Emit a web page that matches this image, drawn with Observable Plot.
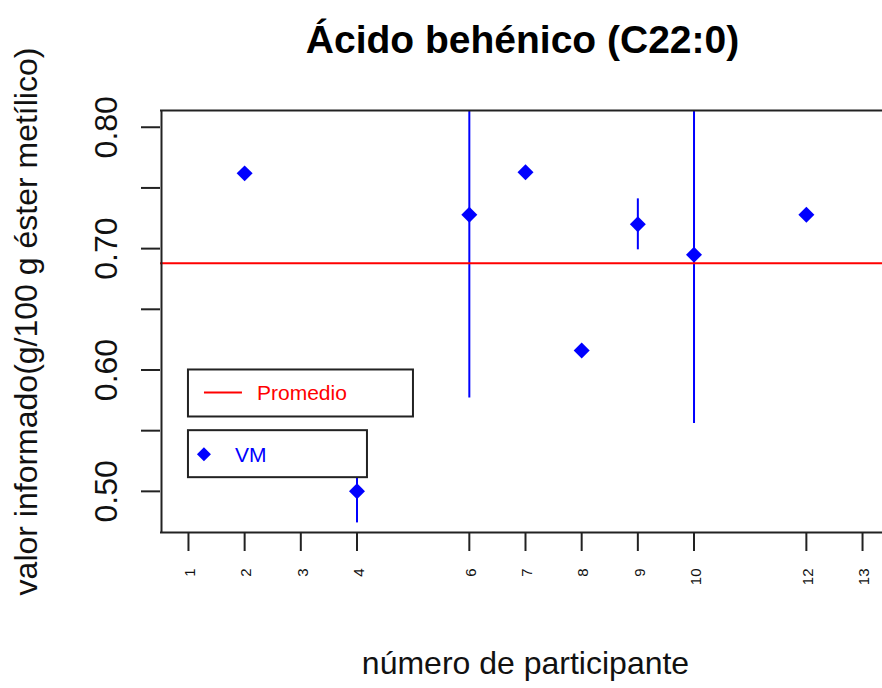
<!DOCTYPE html>
<html><head><meta charset="utf-8">
<script src="https://cdn.jsdelivr.net/npm/d3@7"></script>
<script src="https://cdn.jsdelivr.net/npm/@observablehq/plot@0.6"></script>
<style>
body{margin:0;background:#fff;}
#chart svg{display:block;font-family:"Liberation Sans",Arial,sans-serif;background:#fff;}
</style>
</head><body><div id="chart"></div>
<script>
// ---- data ----
const participants = [2, 4, 6, 7, 8, 9, 10, 12];
const values = [0.762, 0.500, 0.728, 0.763, 0.616, 0.720, 0.695, 0.728];
const uncertainties = [0, 0.026, 0.151, 0, 0, 0.021, 0.139, 0];
const promedio = 0.688;
const xTicks = [1, 2, 3, 4, 6, 7, 8, 9, 10, 12, 13];
const yTicks = [0.50, 0.55, 0.60, 0.65, 0.70, 0.75, 0.80];
const yLabels = [0.50, 0.60, 0.70, 0.80];
const legendLabels = ["Promedio", "VM"];
const legendX = [1, 1];
const legendY = [0.60, 0.55];
const title = "Ácido behénico (C22:0)";
const xTitle = "número de participante";
const yTitle = "valor informado(g/100 g éster metílico)";
const xDomain = [0.52, 13.48];
const yDomain = [0.4661, 0.8138];

const rows = participants.map((p, i) => ({p, v: values[i], u: uncertainties[i]}));
const bars = rows.filter(d => d.u > 0);
const ink = "#222";
const font = "Liberation Sans, Arial, sans-serif";

const plot = Plot.plot({
  width: 882,
  height: 688,
  marginLeft: 160,
  marginRight: 0,
  marginTop: 110,
  marginBottom: 156,
  style: {fontFamily: font, background: "#fff"},
  x: {domain: xDomain, range: [161, 889]},
  y: {domain: yDomain},
  marks: [
    Plot.ruleX(bars, {x: "p", y1: d => d.v - d.u, y2: d => d.v + d.u, stroke: "#0000ff", strokeWidth: 2, clip: true}),
    Plot.dot(rows, {x: "p", y: "v", symbol: "diamond2", r: 7.2, fill: "#0000ff", stroke: "none"}),
    Plot.ruleY([promedio], {stroke: "#ff0000", strokeWidth: 2, clip: true}),
    // box (right side is outside the picture)
    Plot.ruleY([yDomain[0], yDomain[1]], {stroke: ink, strokeWidth: 2}),
    Plot.ruleX([xDomain[0]], {stroke: ink, strokeWidth: 2}),
    // ticks
    Plot.axisX({ticks: xTicks, tickSize: 19, tickFormat: () => "", label: null, stroke: ink, strokeWidth: 2}),
    Plot.axisY({ticks: yTicks, tickSize: 19, tickFormat: () => "", label: null, stroke: ink, strokeWidth: 2}),
    // tick labels
    Plot.text(xTicks, {x: d => d, text: d => String(d), frameAnchor: "bottom", dy: 36, dx: 2, rotate: -90,
      textAnchor: "end", lineAnchor: "middle", fontSize: 15, fill: "#111"}),
    Plot.text(yLabels, {y: d => d, text: d => d.toFixed(2), frameAnchor: "left", dx: -44, rotate: -90,
      textAnchor: "middle", lineAnchor: "bottom", fontSize: 32, fill: "#111"}),
    // titles
    Plot.text([title], {text: d => d, frameAnchor: "top", dy: -58, dx: 1, lineAnchor: "bottom",
      fontSize: 39, fontWeight: "bold", fill: "#000"}),
    Plot.text([xTitle], {text: d => d, frameAnchor: "bottom", dy: 141, dx: 4, lineAnchor: "bottom",
      fontSize: 32, fill: "#111"}),
    Plot.text([yTitle], {text: d => d, frameAnchor: "left", dx: -124, rotate: -90, lineAnchor: "bottom",
      textAnchor: "middle", fontSize: 32, fill: "#111"})
  ]
});

document.getElementById("chart").appendChild(plot);

// ---- legends (anchored at data coordinates through the plot's scales) ----
const sx = plot.scale("x"), sy = plot.scale("y");
const svg = d3.select(plot);
const lg = svg.append("g").attr("font-family", font).attr("font-size", 21).attr("text-anchor", "start");
const boxW = [225, 179];
legendLabels.forEach((label, i) => {
  const ax = sx.apply(legendX[i]), ay = sy.apply(legendY[i]);
  const g = lg.append("g").attr("transform", `translate(${ax},${ay})`);
  g.append("rect").attr("x", 0).attr("y", 0).attr("width", boxW[i]).attr("height", 47)
    .attr("fill", "#fff").attr("stroke", ink).attr("stroke-width", 2);
  if (i === 0) {
    g.append("line").attr("x1", 16).attr("x2", 54).attr("y1", 23).attr("y2", 23)
      .attr("stroke", "#ff0000").attr("stroke-width", 2);
    g.append("text").attr("x", 69).attr("y", 23).attr("dy", "0.35em").attr("fill", "#ff0000").text(label);
  } else {
    g.append("path").attr("d", "M16,17L23,24L16,31L9,24Z").attr("fill", "#0000ff");
    g.append("text").attr("x", 47).attr("y", 24).attr("dy", "0.35em").attr("fill", "#0000ff").text(label);
  }
});
</script>
</body></html>
